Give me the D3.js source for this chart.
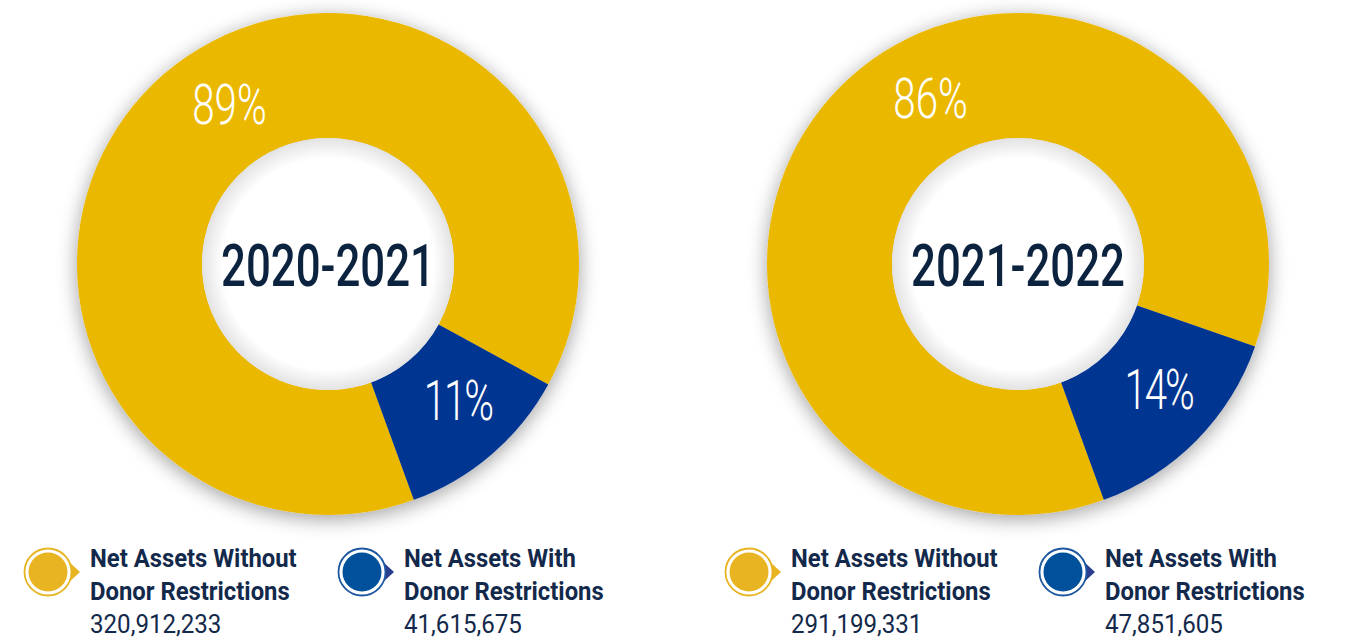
<!DOCTYPE html>
<html>
<head>
<meta charset="utf-8">
<script src="https://cdn.jsdelivr.net/npm/d3@7"></script>
<style>
  html, body { margin: 0; padding: 0; background: #ffffff; }
  svg { display: block; }
</style>
</head>
<body>
<svg id="chart" width="1347" height="639"></svg>
<script>
// ---- data ----
const years = ["2020-2021", "2021-2022"];
const categoryLines = [
  ["Net Assets Without", "Donor Restrictions"],
  ["Net Assets With", "Donor Restrictions"]
];
const withoutRestrictions = [320912233, 291199331];
const withRestrictions = [41615675, 47851605];

// ---- layout / style ----
const W = 1347, H = 639;
const centersX = [328, 1018];
const centerY = 264;
const outerR = 251, innerR = 126;
const legendStartX = [48, 749];
const donutColors = ["#EBB800", "#003591"];
const legendFill = ["#E8B422", "#00509B"];
const legendRing = ["#E8B422", "#1C57A0"];
const legendPointer = ["#E8B422", "#2B3D8F"];
const navy = "#13294B";
const startDeg = 160;              // first slice (without restrictions) starts here
const yellowLabelDeg = [-31.6, -27.7];

const svg = d3.select("#chart");
const defs = svg.append("defs");

const f = defs.append("filter").attr("id", "shadow")
  .attr("x", "-20%").attr("y", "-20%").attr("width", "140%").attr("height", "140%");
f.append("feGaussianBlur").attr("in", "SourceAlpha").attr("stdDeviation", 10).attr("result", "b");
f.append("feOffset").attr("in", "b").attr("dy", 4).attr("result", "o");
f.append("feComponentTransfer").attr("in", "o").attr("result", "s")
  .append("feFuncA").attr("type", "linear").attr("slope", 0.38);
const m = f.append("feMerge");
m.append("feMergeNode").attr("in", "s");
m.append("feMergeNode").attr("in", "SourceGraphic");

const g0 = defs.append("radialGradient").attr("id", "innerGrad");
g0.append("stop").attr("offset", "0%").attr("stop-color", "#ffffff");
g0.append("stop").attr("offset", "84%").attr("stop-color", "#ffffff");
g0.append("stop").attr("offset", "100%").attr("stop-color", "#e3e3e3");

const rad = d => d * Math.PI / 180;
const pie = d3.pie().sort(null).value(d => d)
  .startAngle(rad(startDeg)).endAngle(rad(startDeg) + 2 * Math.PI);
const arc = d3.arc().innerRadius(innerR).outerRadius(outerR);
const fmt = d3.format(",");

function condensed(sel, k) {
  sel.each(function () {
    const t = d3.select(this);
    const x = +t.attr("x"), y = +t.attr("y");
    t.attr("transform", `translate(${x},${y}) scale(${k},1) translate(${-x},${-y})`);
  });
}

years.forEach((year, i) => {
  const vals = [withoutRestrictions[i], withRestrictions[i]];
  const total = d3.sum(vals);
  const arcs = pie(vals);
  const cx = centersX[i];
  const g = svg.append("g").attr("transform", `translate(${cx},${centerY})`);

  g.append("g").attr("filter", "url(#shadow)")
    .selectAll("path").data(arcs).join("path")
    .attr("d", arc).attr("fill", (d, j) => donutColors[j]);

  g.append("circle").attr("r", innerR).attr("fill", "url(#innerGrad)");

  // year label
  const yt = g.append("text").attr("x", 0).attr("y", 22)
    .attr("text-anchor", "middle")
    .attr("font-family", "Roboto, sans-serif").attr("font-weight", 500)
    .attr("font-size", 60).attr("fill", "#0C2340").text(year);
  condensed(yt, 0.73);

  // percentage labels
  const labelR = 188;
  arcs.forEach((d, j) => {
    let a;
    if (j === 0) a = rad(yellowLabelDeg[i]);
    else a = (d.startAngle + d.endAngle) / 2 - rad(3);
    const lx = labelR * Math.sin(a), ly = -labelR * Math.cos(a);
    const t = g.append("text").attr("x", lx).attr("y", ly + 20)
      .attr("text-anchor", "middle")
      .attr("font-family", "Roboto, sans-serif").attr("font-weight", 300)
      .attr("font-size", 56).attr("fill", "#ffffff")
      .attr("letter-spacing", j === 1 ? -3 : 0)
      .text(Math.round(d.value / total * 100) + "%");
    condensed(t, 0.72);
  });

  // legend
  const lx0 = legendStartX[i];
  const iconY = 572;
  const offsets = [0, 314];
  vals.forEach((v, j) => {
    const ix = lx0 + offsets[j];
    const lg = svg.append("g").attr("transform", `translate(${ix},${iconY})`);
    lg.append("path")
      .attr("d", "M20,-11 L32,0 L20,11 Z")
      .attr("fill", legendPointer[j]);
    lg.append("circle").attr("r", 23.5).attr("fill", "#ffffff")
      .attr("stroke", legendRing[j]).attr("stroke-width", 1.8);
    lg.append("circle").attr("r", 19.5).attr("fill", legendFill[j]);

    const tx = ix + 42;
    categoryLines[j].forEach((line, k) => {
      const t = svg.append("text").attr("x", tx).attr("y", 567 + k * 33)
        .attr("font-family", "Roboto, sans-serif").attr("font-weight", 700)
        .attr("font-size", 26.5).attr("fill", navy).text(line);
      condensed(t, 0.9);
    });
    const nt = svg.append("text").attr("x", tx).attr("y", 633)
      .attr("font-family", "Roboto, sans-serif").attr("font-weight", 400)
      .attr("font-size", 26.5).attr("fill", navy).text(fmt(v));
    condensed(nt, 0.91);
  });
});
</script>
</body>
</html>
